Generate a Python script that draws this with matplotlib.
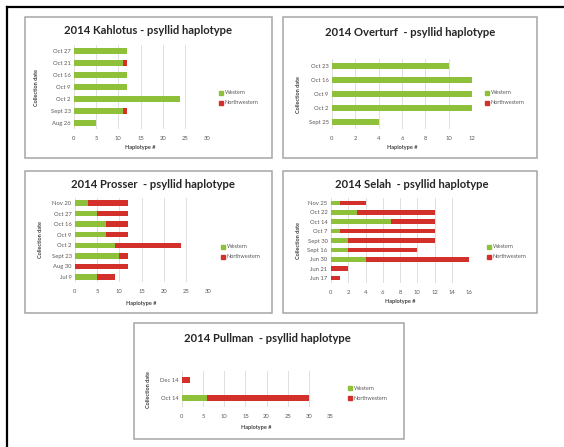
import matplotlib
matplotlib.use("Agg")
import matplotlib.pyplot as plt
from matplotlib.patches import Rectangle
from matplotlib.lines import Line2D

plt.rcParams['font.family'] = ['Lato', 'DejaVu Sans']

# ---------------- data (top-to-bottom order as shown) ----------------
kahlotus_dates = ["Oct 27", "Oct 21", "Oct 16", "Oct 9", "Oct 2", "Sept 23", "Aug 26"]
kahlotus_western = [12, 11, 12, 12, 24, 11, 5]
kahlotus_northwestern = [0, 1, 0, 0, 0, 1, 0]
kahlotus_ticks = [0, 5, 10, 15, 20, 25, 30]

overturf_dates = ["Oct 23", "Oct 16", "Oct 9", "Oct 2", "Sept 25"]
overturf_western = [10, 12, 12, 12, 4]
overturf_northwestern = [0, 0, 0, 0, 0]
overturf_ticks = [0, 2, 4, 6, 8, 10, 12]

prosser_dates = ["Nov 20", "Oct 27", "Oct 16", "Oct 9", "Oct 2", "Sept 23", "Aug 30", "Jul 9"]
prosser_western = [3, 5, 7, 7, 9, 10, 0, 5]
prosser_northwestern = [9, 7, 5, 5, 15, 2, 12, 4]
prosser_ticks = [0, 5, 10, 15, 20, 25, 30]

selah_dates = ["Nov 25", "Oct 22", "Oct 14", "Oct 7", "Sept 30", "Sept 16", "Jun 30", "Jun 21", "Jun 17"]
selah_western = [1, 3, 7, 1, 2, 2, 4, 0, 0]
selah_northwestern = [3, 9, 5, 11, 10, 8, 12, 2, 1]
selah_ticks = [0, 2, 4, 6, 8, 10, 12, 14, 16]

pullman_dates = ["Dec 14", "Oct 14"]
pullman_western = [0, 6]
pullman_northwestern = [2, 24]
pullman_ticks = [0, 5, 10, 15, 20, 25, 30, 35]

series_names = ["Western", "Northwestern"]

GREEN = "#8fc03a"
RED = "#d3302c"
GRAY_TXT = "#595959"
GRID = "#d9d9d9"

W, H = 564, 447
fig = plt.figure(figsize=(W / 100, H / 100), dpi=100)
fig.patch.set_facecolor("white")


def fx(px):
    return px / W


def fy(py):
    return 1 - py / H


# outer black frame (clipped on right/bottom)
fig.add_artist(Line2D([fx(7), fx(7)], [fy(7), fy(447)], color="black", lw=1.6, transform=fig.transFigure))
fig.add_artist(Line2D([fx(7), fx(564)], [fy(7), fy(7)], color="black", lw=1.6, transform=fig.transFigure))


def panel(box, plot, title, title_xy, dates, west, north, ticks, ylab_x, xlab_y, legend_xy, bar_h=0.48):
    bl, bt, br, bb = box
    fig.add_artist(Rectangle((fx(bl), fy(bb)), fx(br) - fx(bl), (bb - bt) / H, transform=fig.transFigure,
                             fill=False, edgecolor="#a6a6a6", lw=1.1))
    l, t, r, b = plot
    ax = fig.add_axes([fx(l), fy(b), fx(r) - fx(l), (b - t) / H])
    n = len(dates)
    ypos = list(range(n))
    ax.barh(ypos, west, height=bar_h, color=GREEN, zorder=3)
    ax.barh(ypos, north, left=west, height=bar_h, color=RED, zorder=3)
    ax.set_ylim(n - 0.5, -0.5)
    ax.set_xlim(ticks[0], ticks[-1])
    ax.set_xticks(ticks)
    ax.set_xticklabels([str(v) for v in ticks])
    ax.set_yticks(ypos)
    ax.set_yticklabels(dates)
    ax.tick_params(axis="both", length=0, labelsize=4.2, colors=GRAY_TXT, pad=2.5)
    ax.tick_params(axis="x", pad=5)
    ax.grid(axis="x", color=GRID, lw=0.6, zorder=0)
    for s in ax.spines.values():
        s.set_visible(False)
    fig.text(fx(title_xy[0]), fy(title_xy[1]), title, ha="center", va="center",
             fontsize=8.1, fontweight="bold", color="#262626")
    fig.text(fx(ylab_x), fy((t + b) / 2), "Collection date", rotation=90, ha="center", va="center",
             fontsize=4, fontweight="bold", color="#404040")
    fig.text(fx((l + r) / 2), fy(xlab_y), "Haplotype #", ha="center", va="center",
             fontsize=4, fontweight="bold", color="#404040")
    handles = [Line2D([], [], marker="s", ls="", color=GREEN, ms=2.2, label=series_names[0]),
               Line2D([], [], marker="s", ls="", color=RED, ms=2.2, label=series_names[1])]
    ax.legend(handles=handles, loc="center left", bbox_to_anchor=(fx(legend_xy[0]), fy(legend_xy[1])),
              bbox_transform=fig.transFigure, frameon=False, fontsize=4, labelcolor=GRAY_TXT,
              handlelength=0.6, handletextpad=0.4, labelspacing=0.9, borderpad=0, borderaxespad=0)
    return ax


panel((25, 17, 272, 158), (74, 45, 207, 129), "2014 Kahlotus - psyllid haplotype", (148, 30),
      kahlotus_dates, kahlotus_western, kahlotus_northwestern, kahlotus_ticks, 37, 147, (219, 98))

panel((283, 17, 537, 158), (332, 59, 472, 129), "2014 Overturf  - psyllid haplotype", (410, 32),
      overturf_dates, overturf_western, overturf_northwestern, overturf_ticks, 298, 147, (485, 98), bar_h=0.45)

panel((25, 171, 272, 313), (75, 197.7, 208, 282.3), "2014 Prosser  - psyllid haplotype", (153, 185),
      prosser_dates, prosser_western, prosser_northwestern, prosser_ticks, 40, 303, (221, 252), bar_h=0.5)

panel((283, 171, 537, 313), (331, 198.3, 469, 282.7), "2014 Selah  - psyllid haplotype", (412, 184),
      selah_dates, selah_western, selah_northwestern, selah_ticks, 298, 302, (487, 252), bar_h=0.5)

panel((134, 323, 404, 439), (182, 371, 330, 407), "2014 Pullman  - psyllid haplotype", (267, 338),
      pullman_dates, pullman_western, pullman_northwestern, pullman_ticks, 148, 427, (348, 393), bar_h=0.33)

fig.savefig("out.png", dpi=100, facecolor="white")
